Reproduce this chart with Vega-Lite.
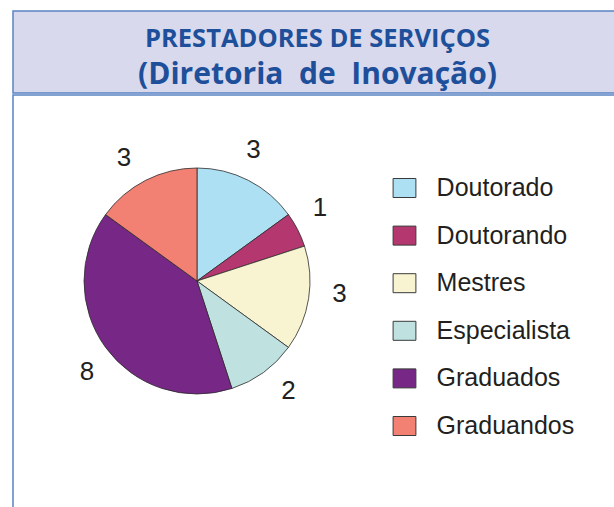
{
  "$schema": "https://vega.github.io/schema/vega-lite/v6.json",
  "padding": {"left": 12, "top": 10, "right": 0, "bottom": 0},
  "background": "white",
  "spacing": 0,
  "config": {"font": "Liberation Sans"},
  "vconcat": [
    {
      "width": 609,
      "height": 82,
      "view": {"fill": "#d8d9ec", "stroke": "#5a84c4", "strokeWidth": 1.5},
      "layer": [
        {
          "data": {"values": [{"linha": "PRESTADORES DE SERVIÇOS"}]},
          "mark": {"type": "text", "font": "Open Sans", "fontWeight": "bold", "fontSize": 25.5, "color": "#1e4f9a", "dy": -5, "baseline": "alphabetic"},
          "encoding": {"text": {"field": "linha", "type": "nominal"}}
        },
        {
          "data": {"values": [{"linha": "(Diretoria \u00a0de \u00a0Inovação)"}]},
          "mark": {"type": "text", "font": "Open Sans", "fontWeight": "bold", "fontSize": 30, "color": "#1e4f9a", "dy": 32, "baseline": "alphabetic"},
          "encoding": {"text": {"field": "linha", "type": "nominal"}}
        }
      ]
    },
    {
      "width": 609,
      "height": 423,
      "view": {"fill": "white", "stroke": "#5a84c4", "strokeWidth": 1.5},
      "data": {
        "values": [
          {"grupo": "Doutorado", "valor": 3, "ordem": 1},
          {"grupo": "Doutorando", "valor": 1, "ordem": 2},
          {"grupo": "Mestres", "valor": 3, "ordem": 3},
          {"grupo": "Especialista", "valor": 2, "ordem": 4},
          {"grupo": "Graduados", "valor": 8, "ordem": 5},
          {"grupo": "Graduandos", "valor": 3, "ordem": 6}
        ]
      },
      "layer": [
        {
          "mark": {"type": "arc", "outerRadius": 113, "x": 184, "y": 186, "stroke": "#2b2b2b", "strokeWidth": 0.8},
          "encoding": {
            "theta": {"field": "valor", "type": "quantitative", "stack": true},
            "order": {"field": "ordem", "type": "quantitative"},
            "color": {
              "field": "grupo",
              "type": "nominal",
              "scale": {
                "domain": ["Doutorado", "Doutorando", "Mestres", "Especialista", "Graduados", "Graduandos"],
                "range": ["#aee0f4", "#b5376f", "#f8f4d2", "#bfe2e0", "#772886", "#f28073"]
              },
              "legend": {
                "orient": "none",
                "legendX": 379,
                "legendY": 164.5,
                "title": null,
                "symbolType": "M-1.2,-1H1.2V1H-1.2Z",
                "symbolSize": 361,
                "symbolStrokeColor": "#3a3a3a",
                "symbolStrokeWidth": 1,
                "labelFontSize": 25,
                "labelColor": "#231f20",
                "labelOffset": 19.6,
                "labelLimit": 250,
                "rowPadding": 21.6
              }
            }
          }
        },
        {
          "mark": {"type": "text", "radius": 143, "thetaOffset": -0.065, "x": 184, "y": 186, "fontSize": 26, "color": "#231f20"},
          "encoding": {
            "theta": {"field": "valor", "type": "quantitative", "stack": true},
            "order": {"field": "ordem", "type": "quantitative"},
            "text": {"field": "valor", "type": "quantitative"}
          }
        }
      ]
    }
  ]
}
